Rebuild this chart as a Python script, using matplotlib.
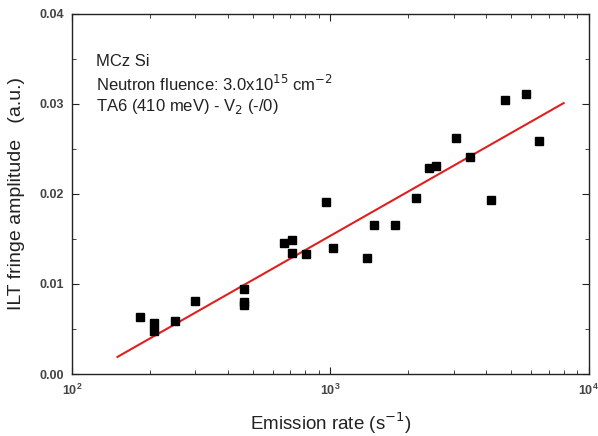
import numpy as np, matplotlib
matplotlib.use("Agg"); import matplotlib.pyplot as plt

# emission rate (s^-1) vs ILT fringe amplitude (a.u.)
rate = [184, 208, 208, 250, 300, 463, 463, 463, 664, 709, 709, 803, 962, 1020,
        1391, 1476, 1776, 2141, 2417, 2566, 3066, 3483, 4201, 4745, 5708, 6445]
amp = [0.0063, 0.0057, 0.0048, 0.0059, 0.0081, 0.0094, 0.0080, 0.0077, 0.0146, 0.0149,
       0.0134, 0.0133, 0.0191, 0.0140, 0.0129, 0.0165, 0.0166, 0.0196, 0.0229, 0.0231,
       0.0262, 0.0241, 0.0193, 0.0304, 0.0311, 0.0259]
fit_rate = [150, 8000]
fit_amp = [0.0019, 0.0301]

INK = "#222222"
plt.rcParams.update({"font.family": ["Liberation Sans", "DejaVu Sans"], "axes.edgecolor": INK,
                     "axes.linewidth": 1.0, "xtick.color": INK, "ytick.color": INK})
fig = plt.figure(figsize=(5.98, 4.36), dpi=100)
ax = fig.add_axes([0.1204, 0.1422, 0.864, 0.8257])

ax.plot(fit_rate, fit_amp, color="#e02020", lw=1.5, zorder=2)
ax.plot(rate, amp, ls="none", marker="s", ms=6, color="black", zorder=3)

ax.set_xscale("log")
ax.set_xlim(100, 10000); ax.set_ylim(0, 0.04)
ax.set_yticks([0, 0.01, 0.02, 0.03, 0.04])
ax.set_yticklabels(["0.00", "0.01", "0.02", "0.03", "0.04"])
ax.set_yticks([0.005, 0.015, 0.025, 0.035], minor=True)
ax.tick_params(which="both", direction="in", top=True, right=True, labelsize=9, pad=6)
ax.tick_params(which="major", length=5)
ax.tick_params(which="minor", length=3)
for t in ax.get_xticklabels() + ax.get_yticklabels():
    t.set_fontweight("bold"); t.set_color("#444444")

ax.set_xlabel("Emission rate (s$^{-1}$)", fontsize=13.5, color=INK, labelpad=9)
ax.set_ylabel("ILT fringe amplitude   (a.u.)", fontsize=14, color=INK, labelpad=10)

tx = 0.047
fs = 12
ax.text(tx, 0.867, "MCz Si", transform=ax.transAxes, fontsize=fs, color=INK, va="center")
ax.text(tx, 0.805, "Neutron fluence: 3.0x10$^{15}$ cm$^{-2}$", transform=ax.transAxes,
        fontsize=fs, color=INK, va="center")
ax.text(tx, 0.742, "TA6 (410 meV) - V$_2$ (-/0)", transform=ax.transAxes, fontsize=fs,
        color=INK, va="center")

plt.savefig("out.png", dpi=100)
